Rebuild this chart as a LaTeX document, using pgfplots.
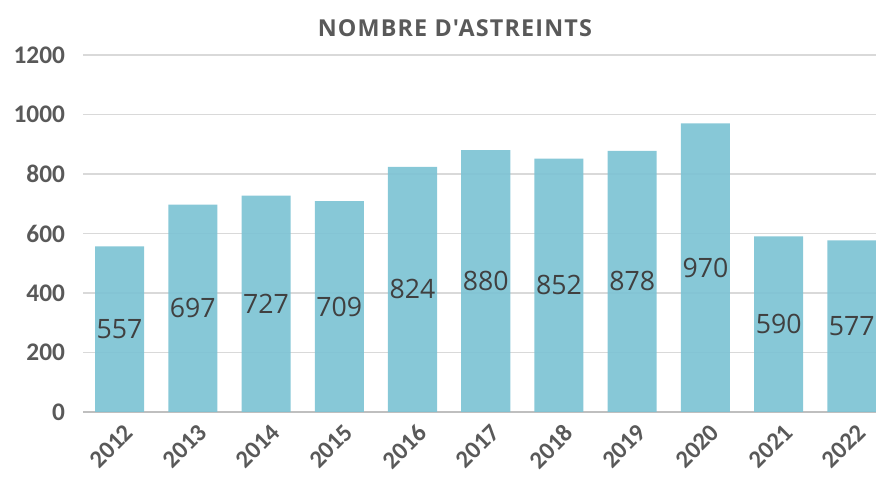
\documentclass[border=0pt]{standalone}
\usepackage{pgfplots}
\pgfplotsset{compat=1.18}
\usepackage{fontspec}
\setmainfont{Carlito}
\newfontfamily\osans{Open Sans}
\newfontfamily\osanstitle[LetterSpace=5]{Open Sans}
\definecolor{barc}{HTML}{7DC3D4}
\definecolor{tickc}{HTML}{595959}
\definecolor{labc}{HTML}{404040}
\definecolor{gridc}{HTML}{D9D9D9}
\definecolor{axc}{HTML}{BFBFBF}
\begin{document}
\begin{tikzpicture}
\begin{axis}[
  scale only axis,
  width=594.75pt, height=267.75pt,
  xmin=-0.5, xmax=10.33,
  ymin=0, ymax=1200,
  ytick={0,200,...,1200},
  xtick={0,...,10},
  xticklabels={2012,2013,2014,2015,2016,2017,2018,2019,2020,2021,2022},
  x tick label style={rotate=45, anchor=north east, font=\fontsize{18.5}{18.5}\selectfont\bfseries, text=tickc, inner sep=0.5pt, xshift=-3pt, yshift=-7pt},
  y tick label style={font=\fontsize{19}{19}\selectfont\bfseries, text=tickc, xshift=-10pt},
  /pgf/number format/assume math mode=true,
  /pgf/number format/1000 sep={},
  ymajorgrids, grid style={gridc, line width=1.2pt},
  axis x line*=bottom, axis y line*=left,
  y axis line style={draw=none},
  x axis line style={axc, line width=1.5pt, -},
  major tick length=0pt,
  ybar, bar width=0.67, bar shift=0pt,
  clip=false,
]
\addplot[fill=barc, fill opacity=0.92, draw=none,
  nodes near coords,
  visualization depends on={\thisrow{y}*0.1115625 \as \dy},
  nodes near coords style={font=\osans\fontsize{20}{20}\selectfont, text=labc, text opacity=1, anchor=center, yshift=-\dy pt},
] table[x=x,y=y] {
x y
0 557
1 697
2 727
3 709
4 824
5 880
6 852
7 878
8 970
9 590
10 577
};
\coordinate (bl) at (rel axis cs:0,0);
\coordinate (tr) at (rel axis cs:1,1);
\node[text=tickc, font=\osanstitle\bfseries\fontsize{17.5}{17.5}\selectfont] at ([yshift=20pt]rel axis cs:0.469,1) {NOMBRE D'ASTREINTS};
\end{axis}
\pgfresetboundingbox
\path[use as bounding box] ([xshift=-62.25pt,yshift=-48.75pt]bl) rectangle ([yshift=41.25pt]tr);
\end{tikzpicture}
\end{document}
